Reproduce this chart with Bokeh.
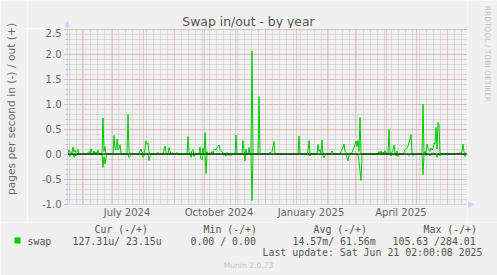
import datetime as dt
import numpy as np
from bokeh.plotting import figure
from bokeh.layouts import row, column
from bokeh.models import (Range1d, FixedTicker, PrintfTickFormatter, Label,
                          Arrow, NormalHead, BoxAnnotation)
from bokeh.embed import file_html
from bokeh.resources import INLINE

# ---------------- data ----------------
START = dt.date(2024, 5, 18)   # left edge of the 400-day window
N_DAYS = 400
N_POINTS = 399

# swap out (+), pages per second, by day offset from START
out_days = [0, 1, 2, 3, 4, 5, 6, 7, 8, 9, 10,
            20, 21, 23, 24, 26, 28, 30, 31,
            35, 36, 37,
            46, 47, 48, 49, 50, 51, 52,
            60, 61,
            72, 73, 74,
            77, 78, 79, 80, 81,
            90, 96, 97, 98, 101, 102, 104, 109,
            120, 121, 124, 125,
            132, 135, 137, 139,
            142, 144, 146, 147, 148, 149, 150, 151, 152, 153, 154, 155, 157, 159,
            168, 175, 176, 178, 181,
            184, 191,
            201, 202, 203, 204, 205, 206,
            231, 240, 241,
            250, 251, 252, 253, 254,
            263, 264, 265,
            272, 273, 274, 275, 276, 277, 278,
            284, 285, 286, 287, 288, 289, 290, 291, 292,
            309, 311, 313, 315, 317, 319, 321, 322, 324, 325, 326, 327, 329,
            336, 337, 338, 339, 340, 341, 342, 343, 344,
            355, 357, 359, 360, 361, 362, 363, 364, 365, 366, 367, 368, 369, 370, 371, 372,
            378, 385, 390, 392, 394, 395, 396]
out_vals = [0.02, 0.08, 0.03, 0.05, 0.02, 0.14, 0.04, 0.08, 0.03, 0.05, 0.09,
            0.03, 0.05, 0.11, 0.03, 0.06, 0.04, 0.08, 0.03,
            0.72, 0.05, 0.15,
            0.37, 0.10, 0.08, 0.30, 0.08, 0.10, 0.19,
            0.79, 0.05,
            0.06, 0.10, 0.04,
            0.10, 0.26, 0.20, 0.22, 0.05,
            0.03, 0.10, 0.16, 0.03, 0.13, 0.05, 0.03, 0.03,
            0.35, 0.05, 0.06, 0.09,
            0.14, 0.12, 0.43, 0.05,
            0.03, 0.05, 0.07, 0.10, 0.08, 0.12, 0.16, 0.18, 0.10, 0.07, 0.04, 0.03, 0.02, 0.03,
            0.38, 0.27, 0.05, 0.10, 0.13,
            2.06, 1.15,
            0.02, 0.03, 0.03, 0.05, 0.15, 0.25,
            0.36, 0.06, 0.27,
            0.19, 0.05, 0.08, 0.02, 0.28,
            0.03, 0.06, 0.02,
            0.02, 0.05, 0.10, 0.13, 0.20, 0.05, 0.03,
            0.03, 0.08, 0.13, 0.19, 0.26, 0.15, 0.27, 0.05, 0.73,
            0.02, 0.05, 0.06, 0.04, 0.07, 0.03, 0.49, 0.02, 0.04, 0.08, 0.18, 0.03, 0.06,
            0.03, 0.08, 0.10, 0.12, 0.16, 0.22, 0.29, 0.39, 0.02,
            1.00, 0.05, 0.20, 0.12, 0.08, 0.05, 0.12, 0.08, 0.10, 0.22, 0.20, 0.53, 0.10, 0.63, 0.60, 0.02,
            0.01, 0.01, 0.02, 0.03, 0.05, 0.20, 0.04]

# swap in (-), pages per second, by day offset from START
in_days = [2, 6, 8,
           35, 36, 37, 38,
           61, 62,
           75, 76,
           81, 82,
           123, 126, 133, 134,
           138,
           156, 158, 161, 163,
           177,
           184,
           242,
           255, 256, 257,
           279, 280, 281,
           290, 291, 292, 293, 294,
           323, 328, 330,
           341, 345, 346,
           355,
           358, 362, 369, 372, 373,
           397, 398]
in_vals = [0.05, 0.07, 0.04,
           0.27, 0.05, 0.20, 0.08,
           0.07, 0.05,
           0.07, 0.03,
           0.13, 0.05,
           0.07, 0.05, 0.10, 0.12,
           0.39,
           0.02, 0.04, 0.03, 0.03,
           0.14,
           0.93,
           0.04,
           0.03, 0.08, 0.03,
           0.08, 0.14, 0.02,
           0.02, 0.15, 0.34, 0.53, 0.03,
           0.04, 0.04, 0.05,
           0.03, 0.03, 0.02,
           0.41,
           0.03, 0.04, 0.07, 0.04, 0.02,
           0.05, 0.02]

y_ticks = [-1.0, -0.5, 0.0, 0.5, 1.0, 1.5, 2.0, 2.5]
x_label_months = [(2024, 7), (2024, 10), (2025, 1), (2025, 4)]
x_label_text = ["July 2024", "October 2024", "January 2025", "April 2025"]

title_text = "Swap in/out - by year"
y_label_text = "pages per second in (-) / out (+)"
watermark_text = "RRDTOOL / TOBI OETIKER"
series_name = "swap"
legend_headers = ["Cur (-/+)", "Min (-/+)", "Avg (-/+)", "Max (-/+)"]
legend_values = ["127.31u/ 23.15u", "0.00 /  0.00", "14.57m/ 61.56m", "105.63 /284.01"]
last_update = "Last update: Sat Jun 21 02:00:08 2025"
footer_text = "Munin 2.0.73"

# ---------------- derived series ----------------
days = np.arange(N_POINTS)
out_series = np.zeros(N_POINTS)
out_series[out_days] = out_vals
in_series = np.zeros(N_POINTS)
in_series[in_days] = in_vals


def off(d):
    return (d - START).days


month_lines = []
yy, mm = 2024, 6
while True:
    o = off(dt.date(yy, mm, 1))
    if o > N_DAYS:
        break
    month_lines.append(o)
    mm += 1
    if mm > 12:
        mm, yy = 1, yy + 1

first_sunday = START + dt.timedelta(days=(6 - START.weekday()) % 7)
week_lines = [w for w in range(off(first_sunday), N_DAYS + 1, 7) if w not in month_lines]
label_pos = [off(dt.date(a, b, 1)) + 15 for a, b in x_label_months]

# ---------------- page geometry ----------------
W, H = 497, 275
LEFT_W, RIGHT_W = 27, 30          # text strips left / right of the plot column
TOP_H = 28                        # title strip
MAIN_H = 194                      # plot incl. x tick labels
PLOT_L = 40                       # y tick-label border inside main figure
FRAME_W, FRAME_H = 400, 176
LEG_H = H - TOP_H - MAIN_H
BASE_FIX = 0.22                   # label baseline correction (fraction of font size)

BG = "#F0F0F0"
TXT = "#666666"
GREEN = "#00CC00"
AXIS = "#CFD6F8"
MGRID = "#E59A9A"
GRID = "#C4C4C4"


def strip(w, h):
    s = figure(width=w, height=h, output_backend="svg", toolbar_location=None, title=None,
               x_range=Range1d(0, w), y_range=Range1d(0, h),
               x_axis_location=None, y_axis_location=None, frame_align=False,
               min_border_left=0, min_border_right=0, min_border_top=0, min_border_bottom=0,
               background_fill_color=BG, border_fill_color=BG, outline_line_color=None)
    s.grid.visible = False
    return s


def txt(fig, page_x0, page_y0, h, text, cx, cy, size, color=TXT, font="DejaVu Sans",
        align="left", angle=0.0):
    shift = BASE_FIX * size
    if angle == 0.0:
        cy -= shift
    elif angle > 0:
        cx -= shift
    else:
        cx += shift
    fig.add_layout(Label(x=cx - page_x0, y=page_y0 + h - cy, x_units="screen", y_units="screen",
                         text=text, text_font=font, text_font_size=f"{size}px",
                         text_color=color, text_align=align, text_baseline="alphabetic",
                         angle=angle))


# ---------------- main plot ----------------
p = figure(width=PLOT_L + FRAME_W, height=MAIN_H, output_backend="svg", toolbar_location=None,
           title=None,
           x_range=Range1d(-0.5, N_DAYS - 0.5), y_range=Range1d(-1.01, 2.51),
           min_border_left=PLOT_L, min_border_right=0, min_border_top=0,
           min_border_bottom=MAIN_H - FRAME_H, frame_align=False,
           background_fill_color=BG, border_fill_color=BG, outline_line_color=None)

p.yaxis.ticker = FixedTicker(ticks=y_ticks,
                             minor_ticks=[round(-1.0 + 0.1 * i, 1) for i in range(36)])
p.yaxis.formatter = PrintfTickFormatter(format="%.1f")
p.yaxis.axis_line_color = AXIS
p.yaxis.major_tick_line_color = MGRID
p.yaxis.major_tick_out = 3
p.yaxis.major_tick_in = 0
p.yaxis.minor_tick_line_color = GRID
p.yaxis.minor_tick_out = 2
p.yaxis.minor_tick_in = 0
p.yaxis.major_label_standoff = 3
p.yaxis.major_label_text_font = "DejaVu Sans"
p.yaxis.major_label_text_font_size = "10px"
p.yaxis.major_label_text_color = TXT

p.xaxis.ticker = FixedTicker(ticks=label_pos)
p.xaxis.major_label_overrides = {pos: t for pos, t in zip(label_pos, x_label_text)}
p.xaxis.axis_line_color = AXIS
p.xaxis.major_tick_line_color = None
p.xaxis.minor_tick_line_color = None
p.xaxis.major_tick_out = 0
p.xaxis.major_tick_in = 0
p.xaxis.major_label_standoff = 2
p.xaxis.major_label_text_font = "DejaVu Sans"
p.xaxis.major_label_text_font_size = "10px"
p.xaxis.major_label_text_color = TXT

p.ygrid.grid_line_color = MGRID
p.ygrid.grid_line_dash = "1 1"
p.ygrid.minor_grid_line_color = GRID
p.ygrid.minor_grid_line_dash = "1 1"
p.xgrid.ticker = FixedTicker(ticks=month_lines, minor_ticks=week_lines)
p.xgrid.grid_line_color = MGRID
p.xgrid.grid_line_dash = "1 1"
p.xgrid.minor_grid_line_color = GRID
p.xgrid.minor_grid_line_dash = "1 1"

p.line(days, out_series, line_color=GREEN, line_width=1)
p.line(days, -in_series, line_color=GREEN, line_width=1)
# zero rule across the whole plot width (drawn through the same scale as the data)
p.line([p.x_range.start, p.x_range.end], [0.0, 0.0], line_color="black", line_width=1)

# ---------------- title strip ----------------
top = strip(PLOT_L + FRAME_W, TOP_H)
txt(top, LEFT_W, 0, TOP_H, title_text, 248, 24, 12.4, color="#555555", align="center")
top.add_layout(Arrow(end=NormalHead(size=5, fill_color=AXIS, line_color=AXIS),
                     x_start=PLOT_L, y_start=0, x_end=PLOT_L, y_end=7,
                     start_units="screen", end_units="screen", line_color=AXIS))

# ---------------- left strip (y label) ----------------
left = strip(LEFT_W, TOP_H + MAIN_H)
txt(left, 0, 0, TOP_H + MAIN_H, y_label_text, 13.5, 108.5, 10.7, align="center", angle=np.pi / 2)

# ---------------- right strip (watermark + x arrow) ----------------
right = strip(RIGHT_W, TOP_H + MAIN_H)
x0r = LEFT_W + PLOT_L + FRAME_W
txt(right, x0r, 0, TOP_H + MAIN_H, watermark_text, 485, 53.5, 7.5, color="#C4C4C4",
    align="center", angle=-np.pi / 2)
right.add_layout(Arrow(end=NormalHead(size=5, fill_color=AXIS, line_color=AXIS),
                       x_start=0, y_start=TOP_H + MAIN_H - (TOP_H + FRAME_H), x_end=6,
                       y_end=TOP_H + MAIN_H - (TOP_H + FRAME_H),
                       start_units="screen", end_units="screen", line_color=AXIS))

# ---------------- legend strip ----------------
leg = strip(W, LEG_H)
y0l = TOP_H + MAIN_H
MONO = "DejaVu Sans Mono"
LEG_TXT = "#555555"
for t, x in zip(legend_headers, [94, 203, 313, 423]):
    txt(leg, 0, y0l, LEG_H, t, x, 231.2, 9.9, color=LEG_TXT, font=MONO)
txt(leg, 0, y0l, LEG_H, series_name, 27, 243.2, 9.9, color=LEG_TXT, font=MONO)
for t, x in zip(legend_values, [72, 190, 292, 392]):
    txt(leg, 0, y0l, LEG_H, t, x, 243.2, 9.9, color=LEG_TXT, font=MONO)
txt(leg, 0, y0l, LEG_H, last_update, 482, 254.6, 9.9, color=LEG_TXT, font=MONO, align="right")
txt(leg, 0, y0l, LEG_H, footer_text, 248, 266.8, 7.6, color="#C4C4C4", align="center")
leg.add_layout(BoxAnnotation(left=14, right=20, top=y0l + LEG_H - 237, bottom=y0l + LEG_H - 243,
                             left_units="screen", right_units="screen",
                             top_units="screen", bottom_units="screen",
                             fill_color=GREEN, fill_alpha=1.0, line_color=None))

layout = column(row(left, column(top, p, spacing=0), right, spacing=0), leg, spacing=0)

open("out.html", "w").write(file_html(layout, INLINE))
